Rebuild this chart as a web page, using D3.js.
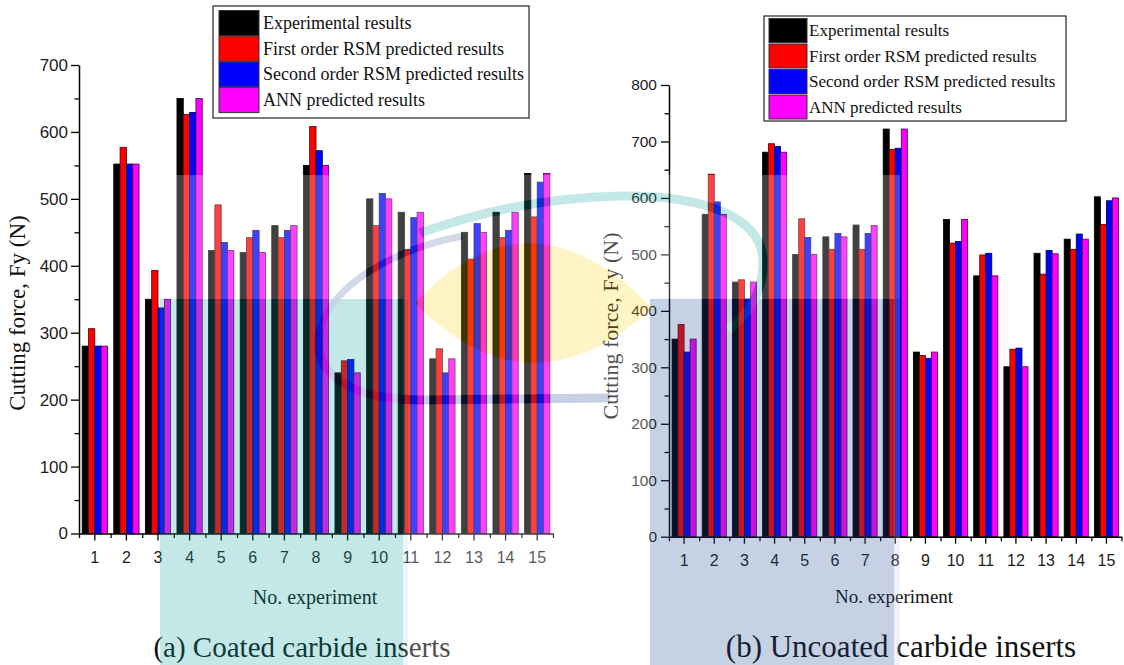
<!DOCTYPE html>
<html>
<head>
<meta charset="utf-8">
<script src="https://cdn.jsdelivr.net/npm/d3@7"></script>
<style>
  html, body { margin: 0; padding: 0; background: #ffffff; }
  svg { display: block; }
</style>
</head>
<body>
<svg id="fig" width="1124" height="665"></svg>
<script>
// ---- data ----
const experiments = ["1","2","3","4","5","6","7","8","9","10","11","12","13","14","15"];
const seriesNames = [
  "Experimental results",
  "First order RSM predicted results",
  "Second order RSM predicted results",
  "ANN predicted results"
];
const seriesColors  = ["#000000", "#ff0000", "#0000ff", "#ff00ff"];
const seriesStrokes = ["#000000", "#4a0000", "#00004a", "#4a004a"];

// Cutting force Fy (N), coated carbide inserts
const coatedExperimental = [280, 552, 350, 650, 423, 420, 460, 550, 240, 500, 480, 261, 450, 480, 538];
const coatedFirstOrder   = [306, 577, 393, 626, 491, 442, 442, 608, 258, 460, 424, 276, 410, 442, 473];
const coatedSecondOrder  = [280, 552, 337, 629, 435, 453, 453, 572, 260, 508, 472, 240, 463, 453, 525];
const coatedANN          = [280, 552, 350, 650, 423, 420, 460, 550, 240, 500, 480, 261, 450, 480, 538];

// Cutting force Fy (N), uncoated carbide inserts
const uncoatedExperimental = [350, 571, 451, 681, 500, 531, 552, 722, 327, 562, 462, 301, 502, 527, 602];
const uncoatedFirstOrder   = [376, 642, 455, 696, 563, 509, 509, 686, 321, 520, 499, 332, 465, 509, 553];
const uncoatedSecondOrder  = [327, 593, 421, 691, 530, 537, 537, 688, 316, 523, 502, 334, 507, 536, 595];
const uncoatedANN          = [350, 571, 451, 681, 500, 531, 551, 722, 327, 562, 462, 301, 501, 527, 600];

const coatedYTicks   = [0, 100, 200, 300, 400, 500, 600, 700];
const uncoatedYTicks = [0, 100, 200, 300, 400, 500, 600, 700, 800];

const yTitle = "Cutting force, Fy (N)";
const xTitle = "No. experiment";
const captions = ["(a) Coated carbide inserts", "(b) Uncoated carbide inserts"];

// ---- drawing ----
const SANS  = "'Liberation Sans', Arial, Helvetica, sans-serif";
const SERIF = "'Liberation Serif', 'Times New Roman', Times, serif";
const svg = d3.select("#fig");

function drawPanel(p) {
  const g = svg.append("g");
  const x = d3.scaleBand().domain(experiments).range([p.x0, p.x1])
    .paddingInner(0.2).paddingOuter(0.1);
  const xs = d3.scaleBand().domain(d3.range(seriesNames.length)).range([0, x.bandwidth()]);
  const y = d3.scaleLinear().domain([0, d3.max(p.yTicks)]).range([p.yBottom, p.yTop]);

  // grouped bars
  p.series.forEach((vals, si) => {
    g.append("g").selectAll("rect").data(vals).join("rect")
      .attr("x", (d, i) => x(experiments[i]) + xs(si))
      .attr("y", d => y(d))
      .attr("width", xs.bandwidth())
      .attr("height", d => y(0) - y(d))
      .attr("fill", seriesColors[si])
      .attr("stroke", seriesStrokes[si])
      .attr("stroke-width", 0.8);
  });

  // y axis: labelled major ticks plus unlabelled minor ticks
  const yMinor = p.yTicks.slice(0, -1).map(v => v + 50);
  const ya = g.append("g").attr("transform", `translate(${p.x0},0)`)
    .call(d3.axisLeft(y).tickValues(p.yTicks).tickSize(8).tickSizeOuter(0).tickPadding(p.yPad));
  g.append("g").attr("transform", `translate(${p.x0},0)`)
    .call(d3.axisLeft(y).tickValues(yMinor).tickSize(4.5).tickFormat(""))
    .call(a => a.select(".domain").remove());

  // x axis: labels at group centres, minor ticks between groups
  const xEdge = d3.scaleLinear().domain([0, experiments.length]).range([p.x0, p.x1]);
  const xa = g.append("g").attr("transform", `translate(0,${p.yBottom})`)
    .call(d3.axisBottom(x).tickSize(7).tickSizeOuter(0).tickPadding(p.xPad));
  g.append("g").attr("transform", `translate(0,${p.yBottom})`)
    .call(d3.axisBottom(xEdge).tickValues(d3.range(0, experiments.length + 1)).tickSize(4.5).tickFormat(""))
    .call(a => a.select(".domain").remove());

  g.selectAll(".domain").attr("stroke", "#000").attr("stroke-width", 1.5);
  g.selectAll(".tick line").attr("stroke", "#000").attr("stroke-width", 1.3);
  ya.selectAll("text").attr("font-family", SANS).attr("font-size", p.yFont).attr("fill", "#1c1c1c");
  xa.selectAll("text").attr("font-family", SANS).attr("font-size", p.xFont).attr("fill", "#1c1c1c");

  // axis titles
  g.append("text")
    .attr("transform", `translate(${p.yTitleX},${p.yTitleY}) rotate(-90)`)
    .attr("text-anchor", "middle").attr("font-family", SERIF)
    .attr("font-size", p.yTitleFont).attr("fill", "#111").text(yTitle);
  g.append("text")
    .attr("x", p.xTitleX).attr("y", p.xTitleY)
    .attr("text-anchor", "middle").attr("font-family", SERIF)
    .attr("font-size", p.xTitleFont).attr("fill", "#111").text(xTitle);
  g.append("text")
    .attr("x", p.captionX).attr("y", 657)
    .attr("text-anchor", "middle").attr("font-family", SERIF)
    .attr("font-size", p.captionFont).attr("fill", "#111").text(p.caption);

  // legend
  const L = p.legend;
  const lg = g.append("g");
  lg.append("rect").attr("x", L.x).attr("y", L.y).attr("width", L.w).attr("height", L.h)
    .attr("fill", "#fff").attr("stroke", "#333").attr("stroke-width", 1.3);
  seriesNames.forEach((name, i) => {
    const top = L.rowTop + i * L.step;
    lg.append("rect").attr("x", L.swX).attr("y", top).attr("width", L.swW).attr("height", L.swH)
      .attr("fill", seriesColors[i]).attr("stroke", "#333").attr("stroke-width", 1);
    lg.append("text").attr("x", L.textX).attr("y", top + L.swH / 2 + L.font * 0.33)
      .attr("font-family", SERIF).attr("font-size", L.font).attr("fill", "#111").text(name);
  });
}

drawPanel({
  x0: 79, x1: 553, yTop: 65, yBottom: 533.5, yTicks: coatedYTicks,
  series: [coatedExperimental, coatedFirstOrder, coatedSecondOrder, coatedANN],
  yPad: 3, xPad: 11.5, yFont: 17, xFont: 16,
  yTitleX: 25, yTitleY: 313, yTitleFont: 23,
  xTitleX: 315, xTitleY: 604, xTitleFont: 20,
  captionX: 302, captionFont: 29, caption: captions[0],
  legend: { x: 213, y: 6, w: 316, h: 112, swX: 219, swW: 40, swH: 25, rowTop: 10.5, step: 25.7, textX: 263, font: 18 }
});

drawPanel({
  x0: 669, x1: 1121.5, yTop: 85, yBottom: 536.7, yTicks: uncoatedYTicks,
  series: [uncoatedExperimental, uncoatedFirstOrder, uncoatedSecondOrder, uncoatedANN],
  yPad: 4, xPad: 10.5, yFont: 15.5, xFont: 16,
  yTitleX: 618, yTitleY: 326, yTitleFont: 22,
  xTitleX: 894, xTitleY: 603, xTitleFont: 19,
  captionX: 901, captionFont: 31, caption: captions[1],
  legend: { x: 764, y: 16, w: 302, h: 105, swX: 769, swW: 38, swH: 24, rowTop: 18.5, step: 25.5, textX: 809, font: 17 }
});

// ---- translucent emblem laid over both panels ----
const teal = "rgb(20,168,162)", navy = "rgb(38,74,152)", gold = "rgb(255,212,30)";
const mark = svg.append("g").attr("opacity", 0.25);
mark.append("rect").attr("x", 172).attr("y", 175).attr("width", 728).attr("height", 490).attr("fill", "#fff");
mark.append("rect").attr("x", 160).attr("y", 299).attr("width", 243).attr("height", 366).attr("fill", teal);
mark.append("rect").attr("x", 403).attr("y", 299).attr("width", 5).attr("height", 366).attr("fill", teal).attr("opacity", 0.35);
mark.append("rect").attr("x", 650).attr("y", 299).attr("width", 244).attr("height", 366).attr("fill", navy);
mark.append("rect").attr("x", 894).attr("y", 299).attr("width", 6).attr("height", 366).attr("fill", navy).attr("opacity", 0.3);
mark.append("path").attr("d", "M415,303 Q530,181 652,308 Q530,420 415,303 Z").attr("fill", gold);
mark.append("path")
  .attr("d", "M420,233 C480,212 540,198 620,196 C700,195 765,215 763,265 C762,295 748,315 728,330")
  .attr("fill", "none").attr("stroke", teal).attr("stroke-width", 9);
mark.append("path")
  .attr("d", "M462,236 C392,250 332,285 320,330")
  .attr("fill", "none").attr("stroke", navy).attr("stroke-width", 7).attr("opacity", 0.8);
mark.append("path")
  .attr("d", "M320,330 C310,375 352,399 420,400 L610,398")
  .attr("fill", "none").attr("stroke", navy).attr("stroke-width", 9);
</script>
</body>
</html>
